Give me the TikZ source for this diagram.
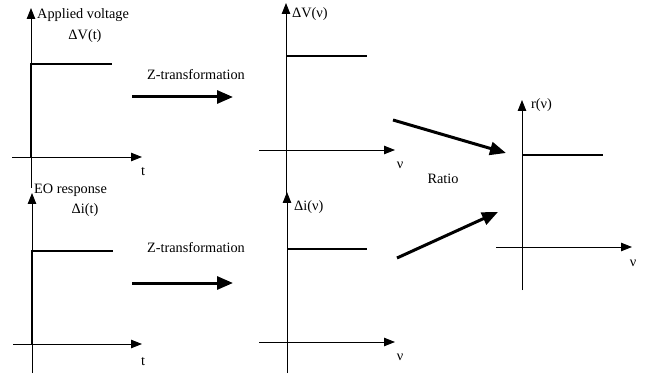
\documentclass[tikz,border=0pt]{standalone}
\usepackage{fontspec}
\setmainfont{Liberation Serif}
\usetikzlibrary{arrows.meta}

\begin{document}
\begin{tikzpicture}[x=1pt, y=-1pt, every node/.style={font=\fontsize{14.3}{16}\selectfont, inner sep=0pt},
	axis/.style={line width=0.9pt, -{Triangle[length=11pt,width=8.5pt]}},
	stepline/.style={line width=1.8pt},
	bigarrow/.style={line width=3pt, -{Triangle[length=16pt,width=13pt]}}]
	\useasboundingbox (0,0) rectangle (658,379);
	% applied voltage, time domain
	\draw[axis] (31,188) -- (31,8);
	\draw[axis] (12,157) -- (142,157);
	\draw[stepline] (31,157) -- (31,64) -- (112,64);
	\node[anchor=west] (vlab) at (37,15) {Applied voltage};
	\node (vt) at (85,36) {ΔV(t)};
	\node (t1) at (143,172) {t};
	% EO response, time domain
	\draw[axis] (32,373) -- (32,193);
	\draw[axis] (13,344) -- (142,344);
	\draw[stepline] (32,344) -- (32,251) -- (113,251);
	\node[anchor=west] (ilab) at (34,190) {EO response};
	\node (it) at (85,210) {Δi(t)};
	\node (t2) at (143,362) {t};
	% transformed voltage
	\draw[axis] (286,196) -- (286,3);
	\draw[axis] (259,150) -- (395,150);
	\draw[stepline] (286,56) -- (367,56);
	\node[anchor=west] (vnu) at (292,14) {ΔV(ν)};
	\node (nu1) at (400,165) {ν};
	% transformed response
	\draw[axis] (287,373) -- (287,192);
	\draw[axis] (259,342) -- (395,342);
	\draw[stepline] (287,249) -- (367,249);
	\node[anchor=west] (inu) at (294,207) {Δi(ν)};
	\node (nu2) at (400,357) {ν};
	% ratio
	\draw[axis] (522,290) -- (522,100);
	\draw[axis] (496,247) -- (632,247);
	\draw[stepline] (522,155) -- (603,155);
	\node[anchor=west] (rnu) at (531,105) {r(ν)};
	\node (nu3) at (633,263) {ν};
	\node (ratio) at (443,179) {Ratio};
	% transformation arrows
	\coordinate (za1) at (132,97);
	\coordinate (zb1) at (233,97);
	\coordinate (za2) at (132,283);
	\coordinate (zb2) at (233,283);
	\coordinate (ra1) at (393,120);
	\coordinate (rb1) at (506,153);
	\coordinate (ra2) at (397,258);
	\coordinate (rb2) at (498,212);
	\draw[bigarrow] (za1) -- (zb1);
	\draw[bigarrow] (za2) -- (zb2);
	\draw[bigarrow] (ra1) -- (rb1);
	\draw[bigarrow] (ra2) -- (rb2);
	\node (z1) at (196,75) {Z-transformation};
	\node (z2) at (196,248) {Z-transformation};
\end{tikzpicture}
\end{document}
